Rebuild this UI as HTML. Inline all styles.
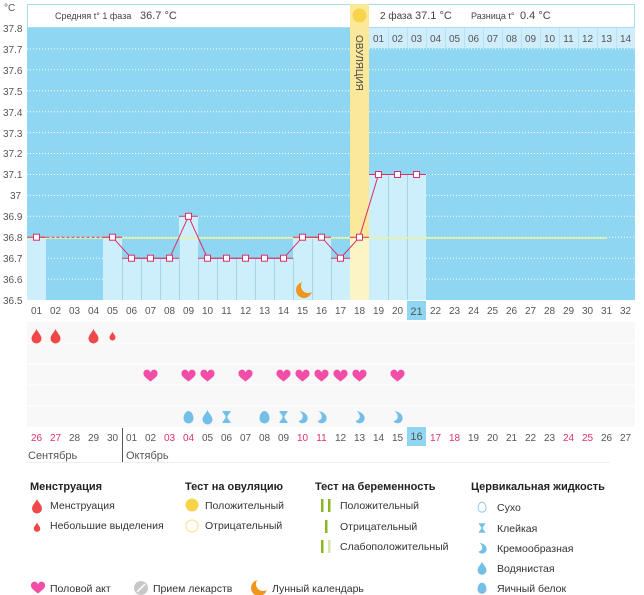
<!DOCTYPE html>
<html><head><meta charset="utf-8"><style>
body{margin:0;background:#fff;width:644px;height:595px;overflow:hidden}
svg{display:block;font-family:"Liberation Sans",sans-serif}
.ax{font-size:10px;fill:#555}
.d{font-size:10px;fill:#555;text-anchor:middle}
.r{fill:#e0306a}
.lg{font-size:10.5px;fill:#333}
.lh{font-size:11px;fill:#222;font-weight:bold}
</style></head><body>
<svg width="644" height="595" viewBox="0 0 644 595">
<defs>
<path id="drop" d="M0,-7 C1,-4 5,-1 5,2.5 A5,5 0 0 1 -5,2.5 C-5,-1 -1,-4 0,-7Z"/>
<path id="heart" d="M0,5.5 C-3,3 -7,0.5 -7,-2 A3.5,3.5 0 0 1 0,-3.5 A3.5,3.5 0 0 1 7,-2 C7,0.5 3,3 0,5.5Z"/>
<path id="egg" d="M0,-6 C3.5,-6 5,-1 5,1.5 A5,5 0 0 1 -5,1.5 C-5,-1 -3.5,-6 0,-6Z"/>
<path id="cream" d="M-3,-6 C3,-5 6,-1 5,2.5 A5,5 0 0 1 -4,4 C1,3 2,-2 -3,-6Z"/>
<path id="sticky" d="M-4,-6 H4 V-5 L1,-1 V1 L4,5 V6 H-4 V5 L-1,1 V-1 L-4,-5Z"/>
<mask id="mm" maskUnits="userSpaceOnUse" x="-20" y="-20" width="40" height="40">
<rect x="-20" y="-20" width="40" height="40" fill="#fff"/>
<circle cx="4" cy="-4" r="7" fill="#000"/>
</mask>
<g id="moon"><circle cx="0" cy="0" r="8" fill="#f0961e" mask="url(#mm)"/></g>
</defs>
<!-- y axis -->
<text x="4" y="11" class="ax" font-size="12">°C</text>
<g class="ax">
<text x="3" y="32">37.8</text><text x="3" y="53">37.7</text><text x="3" y="74">37.6</text><text x="3" y="95">37.5</text><text x="3" y="116">37.4</text><text x="3" y="137">37.3</text><text x="3" y="157">37.2</text><text x="3" y="178">37.1</text><text x="10" y="199">37</text><text x="3" y="220">36.9</text><text x="3" y="241">36.8</text><text x="3" y="262">36.7</text><text x="3" y="283">36.6</text><text x="3" y="304">36.5</text>
</g>
<!-- header -->
<rect x="27.5" y="4.5" width="607" height="23" fill="#fff" stroke="#a8dcef"/>
<text x="55" y="19" font-size="9" fill="#444">Средняя t° 1 фаза</text>
<text x="140" y="19" font-size="11" fill="#444">36.7 °C</text>
<text x="380" y="19" font-size="10" fill="#444">2 фаза</text>
<text x="415" y="19" font-size="11" fill="#444">37.1 °C</text>
<text x="471" y="19" font-size="9" fill="#444">Разница t°</text>
<text x="520" y="19" font-size="11" fill="#444">0.4 °C</text>
<!-- plot bg -->
<rect x="27" y="28" width="608" height="272" fill="#8fd6f2"/>
<rect x="369" y="28" width="266" height="20" fill="#cfedfa"/>
<g stroke="#fff" stroke-width="1" stroke-dasharray="1,2">
<line x1="27" x2="635" y1="48.9" y2="48.9"/><line x1="27" x2="635" y1="69.8" y2="69.8"/><line x1="27" x2="635" y1="90.8" y2="90.8"/><line x1="27" x2="635" y1="111.7" y2="111.7"/><line x1="27" x2="635" y1="132.6" y2="132.6"/><line x1="27" x2="635" y1="153.5" y2="153.5"/><line x1="27" x2="635" y1="174.5" y2="174.5"/><line x1="27" x2="635" y1="195.4" y2="195.4"/><line x1="27" x2="635" y1="216.3" y2="216.3"/><line x1="27" x2="635" y1="237.2" y2="237.2"/><line x1="27" x2="635" y1="258.2" y2="258.2"/><line x1="27" x2="635" y1="279.1" y2="279.1"/>
</g>
<g stroke="#b5e3f6"><line x1="388.5" x2="388.5" y1="28" y2="48"/><line x1="407.5" x2="407.5" y1="28" y2="48"/><line x1="426.5" x2="426.5" y1="28" y2="48"/><line x1="445.5" x2="445.5" y1="28" y2="48"/><line x1="464.5" x2="464.5" y1="28" y2="48"/><line x1="483.5" x2="483.5" y1="28" y2="48"/><line x1="502.5" x2="502.5" y1="28" y2="48"/><line x1="521.5" x2="521.5" y1="28" y2="48"/><line x1="540.5" x2="540.5" y1="28" y2="48"/><line x1="559.5" x2="559.5" y1="28" y2="48"/><line x1="578.5" x2="578.5" y1="28" y2="48"/><line x1="597.5" x2="597.5" y1="28" y2="48"/><line x1="616.5" x2="616.5" y1="28" y2="48"/></g>
<g class="d" fill="#555"><text x="378.5" y="42">01</text><text x="397.5" y="42">02</text><text x="416.5" y="42">03</text><text x="435.5" y="42">04</text><text x="454.5" y="42">05</text><text x="473.5" y="42">06</text><text x="492.5" y="42">07</text><text x="511.5" y="42">08</text><text x="530.5" y="42">09</text><text x="549.5" y="42">10</text><text x="568.5" y="42">11</text><text x="587.5" y="42">12</text><text x="606.5" y="42">13</text><text x="625.5" y="42">14</text></g>
<!-- bars -->
<g fill="#cdeefb">
<rect x="27" y="237.2" width="19" height="62.8"/>
<rect x="103" y="237.2" width="19" height="62.8"/>
<rect x="122" y="258.2" width="57" height="41.8"/>
<rect x="179" y="216.3" width="19" height="83.7"/>
<rect x="198" y="258.2" width="95" height="41.8"/>
<rect x="293" y="237.2" width="38" height="62.8"/>
<rect x="331" y="258.2" width="19" height="41.8"/>
<rect x="369" y="174.5" width="57" height="125.5"/>
</g>
<rect x="350" y="4" width="19" height="233" fill="#fbe89a"/>
<rect x="350" y="237.2" width="19" height="62.8" fill="#fdf4c6"/>
<g stroke="#a6d5ea"><line x1="122.5" x2="122.5" y1="258" y2="300"/><line x1="141.5" x2="141.5" y1="258" y2="300"/><line x1="160.5" x2="160.5" y1="258" y2="300"/><line x1="179.5" x2="179.5" y1="237" y2="300"/><line x1="198.5" x2="198.5" y1="237" y2="300"/><line x1="217.5" x2="217.5" y1="258" y2="300"/><line x1="236.5" x2="236.5" y1="258" y2="300"/><line x1="255.5" x2="255.5" y1="258" y2="300"/><line x1="274.5" x2="274.5" y1="258" y2="300"/><line x1="293.5" x2="293.5" y1="258" y2="300"/><line x1="312.5" x2="312.5" y1="237" y2="300"/><line x1="331.5" x2="331.5" y1="258" y2="300"/><line x1="388.5" x2="388.5" y1="175" y2="300"/><line x1="407.5" x2="407.5" y1="175" y2="300"/></g>
<circle cx="359.5" cy="15.5" r="7" fill="#f8d44a"/>
<text transform="translate(356,35) rotate(90)" font-size="10" fill="#444">ОВУЛЯЦИЯ</text>
<!-- coverline -->
<line x1="27" x2="607" y1="238" y2="238" stroke="#eef39a" stroke-width="1.5"/>
<!-- moon -->
<use href="#moon" x="304" y="290"/>
<!-- temp line -->
<g stroke="#d8306a" stroke-width="1" fill="none">
<line x1="36.5" y1="237.2" x2="112.5" y2="237.2" stroke-dasharray="3,2"/>
<polyline points="112.5,237.2 131.5,258.2 150.5,258.2 169.5,258.2 188.5,216.3 207.5,258.2 226.5,258.2 245.5,258.2 264.5,258.2 283.5,258.2 302.5,237.2 321.5,237.2 340.5,258.2 359.5,237.2 378.5,174.5 397.5,174.5 416.5,174.5"/>
<line x1="27" x2="46" y1="237.2" y2="237.2"/><line x1="103" x2="122" y1="237.2" y2="237.2"/><line x1="122" x2="179" y1="258.2" y2="258.2"/><line x1="179" x2="198" y1="216.3" y2="216.3"/><line x1="198" x2="293" y1="258.2" y2="258.2"/><line x1="293" x2="331" y1="237.2" y2="237.2"/><line x1="331" x2="350" y1="258.2" y2="258.2"/><line x1="350" x2="369" y1="237.2" y2="237.2"/><line x1="369" x2="426" y1="174.5" y2="174.5"/>
</g>
<g fill="#fff" stroke="#d8306a" stroke-width="1">
<rect x="33.5" y="234.2" width="6" height="6"/><rect x="109.5" y="234.2" width="6" height="6"/><rect x="128.5" y="255.2" width="6" height="6"/><rect x="147.5" y="255.2" width="6" height="6"/><rect x="166.5" y="255.2" width="6" height="6"/><rect x="185.5" y="213.3" width="6" height="6"/><rect x="204.5" y="255.2" width="6" height="6"/><rect x="223.5" y="255.2" width="6" height="6"/><rect x="242.5" y="255.2" width="6" height="6"/><rect x="261.5" y="255.2" width="6" height="6"/><rect x="280.5" y="255.2" width="6" height="6"/><rect x="299.5" y="234.2" width="6" height="6"/><rect x="318.5" y="234.2" width="6" height="6"/><rect x="337.5" y="255.2" width="6" height="6"/><rect x="356.5" y="234.2" width="6" height="6"/><rect x="375.5" y="171.5" width="6" height="6"/><rect x="394.5" y="171.5" width="6" height="6"/><rect x="413.5" y="171.5" width="6" height="6"/>
</g>
<!-- day labels -->
<rect x="407" y="301" width="19" height="19" fill="#8fd6f2"/>
<g class="d"><text x="36.5" y="314">01</text><text x="55.5" y="314">02</text><text x="74.5" y="314">03</text><text x="93.5" y="314">04</text><text x="112.5" y="314">05</text><text x="131.5" y="314">06</text><text x="150.5" y="314">07</text><text x="169.5" y="314">08</text><text x="188.5" y="314">09</text><text x="207.5" y="314">10</text><text x="226.5" y="314">11</text><text x="245.5" y="314">12</text><text x="264.5" y="314">13</text><text x="283.5" y="314">14</text><text x="302.5" y="314">15</text><text x="321.5" y="314">16</text><text x="340.5" y="314">17</text><text x="359.5" y="314">18</text><text x="378.5" y="314">19</text><text x="397.5" y="314">20</text><text x="416.5" y="315" font-size="11">21</text><text x="435.5" y="314">22</text><text x="454.5" y="314">23</text><text x="473.5" y="314">24</text><text x="492.5" y="314">25</text><text x="511.5" y="314">26</text><text x="530.5" y="314">27</text><text x="549.5" y="314">28</text><text x="568.5" y="314">29</text><text x="587.5" y="314">30</text><text x="606.5" y="314">31</text><text x="625.5" y="314">32</text></g>
<!-- lower grid -->
<rect x="27" y="322" width="608" height="105" fill="#f8f8f8"/>
<g stroke="#fff" stroke-width="1"><line x1="27" x2="635" y1="343" y2="343"/><line x1="27" x2="635" y1="364" y2="364"/><line x1="27" x2="635" y1="385" y2="385"/><line x1="27" x2="635" y1="406" y2="406"/></g>
<!-- drops -->
<g fill="#f04848"><use href="#drop" x="36.5" y="336"/><use href="#drop" x="55.5" y="336"/><use href="#drop" x="93.5" y="336"/><use href="#drop" transform="translate(112.5,336) scale(0.6)"/></g>
<!-- hearts -->
<g fill="#f24ea8"><use href="#heart" x="150.5" y="376"/><use href="#heart" x="188.5" y="376"/><use href="#heart" x="207.5" y="376"/><use href="#heart" x="245.5" y="376"/><use href="#heart" x="283.5" y="376"/><use href="#heart" x="302.5" y="376"/><use href="#heart" x="321.5" y="376"/><use href="#heart" x="340.5" y="376"/><use href="#heart" x="359.5" y="376"/><use href="#heart" x="397.5" y="376"/></g>
<!-- fluid -->
<g fill="#74bfe8"><use href="#egg" x="188.5" y="417"/><use href="#drop" x="207.5" y="417"/><use href="#sticky" x="226.5" y="417"/><use href="#egg" x="264.5" y="417"/><use href="#sticky" x="283.5" y="417"/><use href="#cream" x="302.5" y="417"/><use href="#cream" x="321.5" y="417"/><use href="#cream" x="359.5" y="417"/><use href="#cream" x="397.5" y="417"/></g>
<!-- dates -->
<rect x="407" y="427" width="19" height="19" fill="#8fd6f2"/>
<g class="d"><text x="36.5" y="441" class="r">26</text><text x="55.5" y="441" class="r">27</text><text x="74.5" y="441">28</text><text x="93.5" y="441">29</text><text x="112.5" y="441">30</text><text x="131.5" y="441">01</text><text x="150.5" y="441">02</text><text x="169.5" y="441" class="r">03</text><text x="188.5" y="441" class="r">04</text><text x="207.5" y="441">05</text><text x="226.5" y="441">06</text><text x="245.5" y="441">07</text><text x="264.5" y="441">08</text><text x="283.5" y="441">09</text><text x="302.5" y="441" class="r">10</text><text x="321.5" y="441" class="r">11</text><text x="340.5" y="441">12</text><text x="359.5" y="441">13</text><text x="378.5" y="441">14</text><text x="397.5" y="441">15</text><text x="416.5" y="440" font-size="11">16</text><text x="435.5" y="441" class="r">17</text><text x="454.5" y="441" class="r">18</text><text x="473.5" y="441">19</text><text x="492.5" y="441">20</text><text x="511.5" y="441">21</text><text x="530.5" y="441">22</text><text x="549.5" y="441">23</text><text x="568.5" y="441" class="r">24</text><text x="587.5" y="441" class="r">25</text><text x="606.5" y="441">26</text><text x="625.5" y="441">27</text></g>
<line x1="122.5" x2="122.5" y1="428" y2="462" stroke="#555"/>
<text x="28" y="459" font-size="11" fill="#555">Сентябрь</text>
<text x="126" y="459" font-size="11" fill="#555">Октябрь</text>
<line x1="27" x2="610" y1="462.5" y2="462.5" stroke="#eee"/>
<!-- legend -->
<text x="30" y="490" class="lh">Менструация</text>
<use href="#drop" x="37" y="506" fill="#f04848"/><text x="50" y="509" class="lg">Менструация</text>
<use href="#drop" transform="translate(37,527) scale(0.65)" fill="#f04848"/><text x="50" y="529" class="lg">Небольшие выделения</text>
<text x="185" y="490" class="lh">Тест на овуляцию</text>
<circle cx="192" cy="505" r="6.5" fill="#f8d44a"/><text x="205" y="509" class="lg">Положительный</text>
<circle cx="192" cy="526" r="6" fill="#fff" stroke="#f8e08a"/><text x="205" y="529" class="lg">Отрицательный</text>
<text x="315" y="490" class="lh">Тест на беременность</text>
<rect x="321" y="499" width="2.5" height="13" fill="#8ab81e"/><rect x="328" y="499" width="2.5" height="13" fill="#8ab81e"/><text x="340" y="509" class="lg">Положительный</text>
<rect x="325" y="520" width="2.5" height="13" fill="#8ab81e"/><text x="340" y="530" class="lg">Отрицательный</text>
<rect x="321" y="540" width="2.5" height="13" fill="#8ab81e"/><rect x="328" y="540" width="2.5" height="13" fill="#d7e6b0"/><text x="340" y="550" class="lg">Слабоположительный</text>
<text x="471" y="490" class="lh">Цервикальная жидкость</text>
<use href="#egg" transform="translate(482,507) scale(0.8)" fill="#fff" stroke="#74bfe8"/><text x="497" y="511" class="lg">Сухо</text>
<use href="#sticky" transform="translate(482,528) scale(0.8)" fill="#74bfe8"/><text x="497" y="532" class="lg">Клейкая</text>
<use href="#cream" transform="translate(482,548) scale(0.9)" fill="#74bfe8"/><text x="497" y="552" class="lg">Кремообразная</text>
<use href="#drop" transform="translate(482,568) scale(0.9)" fill="#74bfe8"/><text x="497" y="572" class="lg">Водянистая</text>
<use href="#egg" transform="translate(482,588) scale(0.9)" fill="#74bfe8"/><text x="497" y="592" class="lg">Яичный белок</text>
<use href="#heart" x="38" y="588" fill="#f24ea8"/><text x="50" y="592" class="lg">Половой акт</text>
<circle cx="141" cy="588" r="7" fill="#c8c8c8"/><line x1="137" y1="592" x2="145" y2="584" stroke="#fff" stroke-width="1.5"/><text x="153" y="592" class="lg">Прием лекарств</text>
<use href="#moon" x="259" y="588"/><text x="272" y="592" class="lg">Лунный календарь</text>
</svg>
</body></html>
